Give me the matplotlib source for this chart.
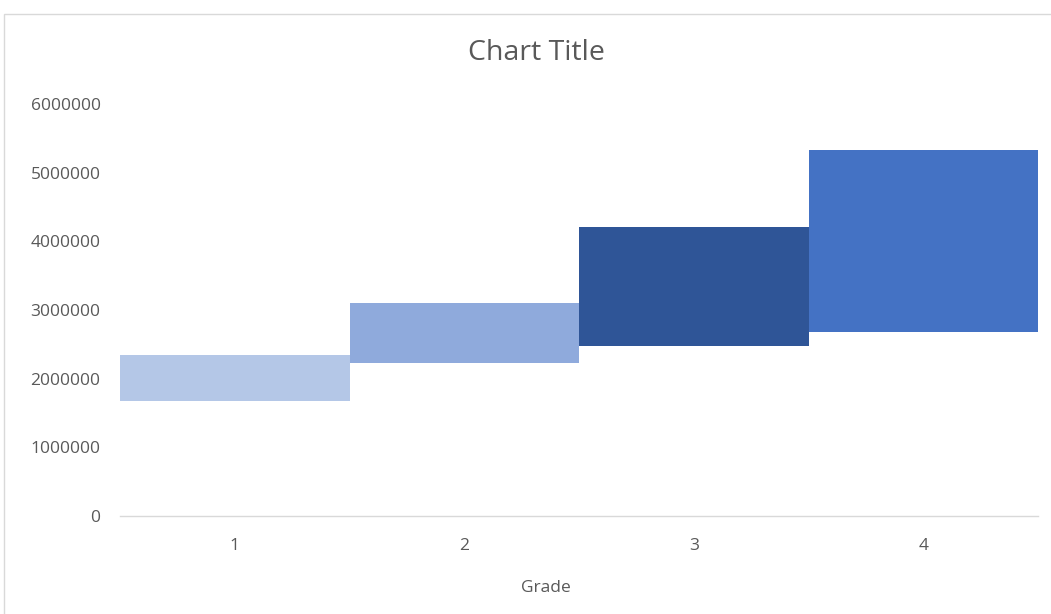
import matplotlib.pyplot as plt
from matplotlib.patches import Rectangle

plt.rcParams['font.family'] = ['Open Sans', 'DejaVu Sans']

# data
grades = ['1', '2', '3', '4']
low = [1675000, 2232000, 2476000, 2680000]
high = [2340000, 3106000, 4204000, 5330000]
colors = ['#B4C7E7', '#8FAADC', '#2F5597', '#4472C4']
yticks = [0, 1000000, 2000000, 3000000, 4000000, 5000000, 6000000]

text_grey = '#595959'

fig = plt.figure(figsize=(10.51, 6.14), dpi=100)
ax = fig.add_axes([120/1051, 1 - 516/614, (1038 - 120)/1051, (516 - 104)/614])

# floating bars: invisible base, visible span
heights = [h - l for h, l in zip(high, low)]
pos = range(len(grades))
ax.bar(pos, heights, bottom=low, width=1.0, color=colors, linewidth=0)

ax.set_xlim(-0.5, len(grades) - 0.5)
ax.set_ylim(0, 6000000)
ax.set_yticks(yticks)
ax.set_yticklabels([str(v) for v in yticks])
ax.set_xticks(list(pos))
ax.set_xticklabels(grades)

for s in ['top', 'right', 'left']:
    ax.spines[s].set_visible(False)
ax.spines['bottom'].set_color('#D9D9D9')
ax.spines['bottom'].set_linewidth(1.0)
ax.tick_params(axis='both', length=0, labelsize=12.5, colors=text_grey)
ax.tick_params(axis='y', pad=14)
ax.tick_params(axis='x', pad=16)

ax.set_xlabel('Grade', fontsize=12.5, color=text_grey)
ax.xaxis.set_label_coords((546 - 120) / 918, -64 / 412)
fig.text(536 / 1051, 1 - 53/614, 'Chart Title', ha='center', va='center',
         fontsize=20.5, color=text_grey)

# chart area border (runs off right and bottom of picture)
fig.patches.append(Rectangle((4/1051, -0.1), 1.2, 1 - 14/614 + 0.1, transform=fig.transFigure,
                             fill=False, edgecolor='#D9D9D9', linewidth=1.0))

fig.savefig('out.png', dpi=100)
